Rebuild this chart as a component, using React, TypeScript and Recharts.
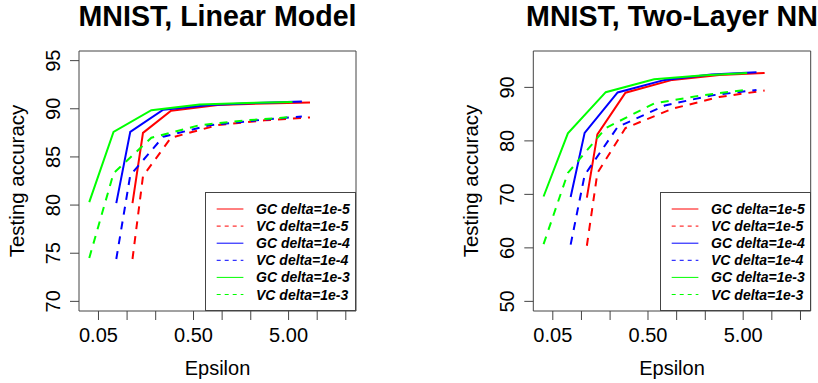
import React from "react";
import { LineChart, Line, XAxis, YAxis, ReferenceArea, Legend } from "recharts";

// epsilon values for each delta (shared by GC and VC curves)
const epsD5 = [0.114, 0.147, 0.29, 0.9, 2.8, 8.4];
const epsD4 = [0.077, 0.108, 0.24, 0.75, 2.3, 6.9];
const epsD3 = [0.04, 0.072, 0.18, 0.58, 1.8, 5.5];

// MNIST, linear model
const linGC5 = [80.2, 87.5, 89.8, 90.4, 90.55, 90.65];
const linVC5 = [74.4, 83.0, 87.0, 88.3, 88.8, 89.1];
const linGC4 = [80.2, 87.6, 89.9, 90.4, 90.6, 90.75];
const linVC4 = [74.4, 83.1, 87.1, 88.3, 88.8, 89.2];
const linGC3 = [80.3, 87.6, 89.85, 90.45, 90.6, 90.7];
const linVC3 = [74.5, 83.3, 87.0, 88.3, 88.8, 89.15];

// MNIST, two-layer NN
const nnGC5 = [69.4, 81.2, 89.0, 91.4, 92.3, 92.7];
const nnVC5 = [60.4, 74.0, 82.4, 86.0, 88.2, 89.4];
const nnGC4 = [69.5, 81.5, 89.05, 91.4, 92.4, 92.85];
const nnVC4 = [60.6, 73.6, 82.6, 86.6, 88.5, 89.5];
const nnGC3 = [69.6, 81.4, 89.1, 91.5, 92.2, 92.7];
const nnVC3 = [60.7, 74.0, 82.4, 87.0, 88.5, 89.55];

const seriesNames = [
  "GC delta=1e-5",
  "VC delta=1e-5",
  "GC delta=1e-4",
  "VC delta=1e-4",
  "GC delta=1e-3",
  "VC delta=1e-3",
];
const seriesColors = ["#ff0000", "#ff0000", "#0000ff", "#0000ff", "#00ff00", "#00ff00"];
const seriesDashed = [false, true, false, true, false, true];

const xTicks = [0.05, 0.1, 0.2, 0.5, 1, 2, 5, 10, 20];
const xTickLabels: Record<string, string> = { "0.05": "0.05", "0.5": "0.50", "5": "5.00" };
const linYTicks = [70, 75, 80, 85, 90, 95];
const nnYTicks = [50, 60, 70, 80, 90];

const FONT = "'Liberation Sans', Arial, sans-serif";
const X_DOMAIN: [number, number] = [0.0312, 25.6];

type Series = { name: string; color: string; dashed: boolean; data: { x: number; y: number }[] };

const buildSeries = (vals: number[][]): Series[] => {
  const eps = [epsD5, epsD5, epsD4, epsD4, epsD3, epsD3];
  return vals.map((v, i) => ({
    name: seriesNames[i],
    color: seriesColors[i],
    dashed: seriesDashed[i],
    data: eps[i].map((x, j) => ({ x, y: v[j] })),
  }));
};

const linSeries = buildSeries([linGC5, linVC5, linGC4, linVC4, linGC3, linVC3]);
const nnSeries = buildSeries([nnGC5, nnVC5, nnGC4, nnVC4, nnGC3, nnVC3]);

const XTick = (props: any) => {
  const { x, y, payload } = props;
  const label = xTickLabels[String(payload.value)] ?? "";
  return (
    <text x={x} y={y + 22} textAnchor="middle" fontSize={20} fontFamily={FONT} fill="#000">
      {label}
    </text>
  );
};

const YTick = (props: any) => {
  const { x, y, payload } = props;
  const bx = x - 10;
  return (
    <text
      x={bx}
      y={y}
      transform={`rotate(-90, ${bx}, ${y})`}
      textAnchor="middle"
      fontSize={20}
      fontFamily={FONT}
      fill="#000"
    >
      {payload.value}
    </text>
  );
};

const LegendBox = ({ items }: { items: Series[] }) => (
  <svg width={151} height={119} style={{ display: "block" }}>
    <rect x={0.5} y={0.5} width={150} height={118} fill="#fff" stroke="#444" />
    {items.map((s, i) => {
      const cy = 17 + 17.1 * i;
      return (
        <g key={s.name}>
          <line
            x1={11.7}
            x2={38.4}
            y1={cy}
            y2={cy}
            stroke={s.color}
            strokeWidth={1}
            strokeDasharray={s.dashed ? "4 4" : undefined}
          />
          <text
            x={51}
            y={cy + 5}
            fontSize={14}
            fontWeight="bold"
            fontStyle="italic"
            fontFamily={FONT}
            fill="#000"
          >
            {s.name}
          </text>
        </g>
      );
    })}
  </svg>
);

interface PanelProps {
  title: string;
  series: Series[];
  yDomain: [number, number];
  yTicks: number[];
  marginLeft: number;
  marginRight: number;
  left: number;
}

const Panel = (props: PanelProps) => {
  const { title, series, yDomain, yTicks, marginLeft, marginRight, left } = props;
  const width = 409;
  const height = 383;
  const plotLeft = marginLeft + 79;
  const plotRight = width - marginRight;
  const plotCenter = (plotLeft + plotRight) / 2;

  return (
    <div style={{ position: "absolute", left, top: 0, width, height }}>
      <div
        style={{
          position: "absolute",
          left: plotCenter - 200,
          top: 0,
          width: 400,
          textAlign: "center",
          whiteSpace: "nowrap",
          fontFamily: FONT,
          fontSize: 28.6,
          fontWeight: "bold",
          lineHeight: "normal",
          color: "#000",
        }}
      >
        {title}
      </div>
      <LineChart
        width={width}
        height={height}
        margin={{ top: 51, right: marginRight, bottom: 0, left: marginLeft }}
      >
        <XAxis
          dataKey="x"
          type="number"
          scale="log"
          domain={X_DOMAIN}
          allowDataOverflow
          ticks={xTicks}
          interval={0}
          height={72}
          tickSize={9}
          tickMargin={0}
          axisLine={false}
          tickLine={{ stroke: "#444" }}
          tick={<XTick />}
          label={(p: any) => (
            <text
              x={p.viewBox.x + p.viewBox.width / 2}
              y={p.viewBox.y + 64}
              textAnchor="middle"
              fontSize={20}
              fontFamily={FONT}
              fill="#000"
            >
              Epsilon
            </text>
          )}
        />
        <YAxis
          type="number"
          domain={yDomain}
          allowDataOverflow
          ticks={yTicks}
          interval={0}
          width={79}
          tickSize={9}
          tickMargin={0}
          axisLine={false}
          tickLine={{ stroke: "#444" }}
          tick={<YTick />}
          label={(p: any) => {
            const lx = p.viewBox.x + 23.5;
            const ly = p.viewBox.y + p.viewBox.height / 2;
            return (
              <text
                x={lx}
                y={ly}
                transform={`rotate(-90, ${lx}, ${ly})`}
                textAnchor="middle"
                fontSize={20.5}
                fontFamily={FONT}
                fill="#000"
              >
                Testing accuracy
              </text>
            );
          }}
        />
        <ReferenceArea
          x1={X_DOMAIN[0]}
          x2={X_DOMAIN[1]}
          y1={yDomain[0]}
          y2={yDomain[1]}
          fill="none"
          stroke="#444"
          strokeWidth={1}
          ifOverflow="visible"
        />
        {series.map((s) => (
          <Line
            key={s.name}
            data={s.data}
            dataKey="y"
            name={s.name}
            type="linear"
            stroke={s.color}
            strokeWidth={2}
            strokeDasharray={s.dashed ? "8 7" : undefined}
            dot={false}
            activeDot={false}
            isAnimationActive={false}
          />
        ))}
        <Legend
          layout="vertical"
          align="center"
          verticalAlign="middle"
          wrapperStyle={{
            position: "absolute",
            left: plotRight - 151,
            top: 192.3,
            width: 151,
            height: 119,
          }}
          content={() => <LegendBox items={series} />}
        />
      </LineChart>
    </div>
  );
};

export default function App() {
  return (
    <div style={{ position: "relative", width: 818, height: 383, overflow: "hidden", background: "#fff" }}>
      <style>{"body{margin:0}"}</style>
      <Panel
        title="MNIST, Linear Model"
        series={linSeries}
        yDomain={[69, 96]}
        yTicks={linYTicks}
        marginLeft={0}
        marginRight={53}
        left={0}
      />
      <Panel
        title="MNIST, Two-Layer NN"
        series={nnSeries}
        yDomain={[48.2, 96.8]}
        yTicks={nnYTicks}
        marginLeft={45.3}
        marginRight={7.3}
        left={409}
      />
    </div>
  );
}
